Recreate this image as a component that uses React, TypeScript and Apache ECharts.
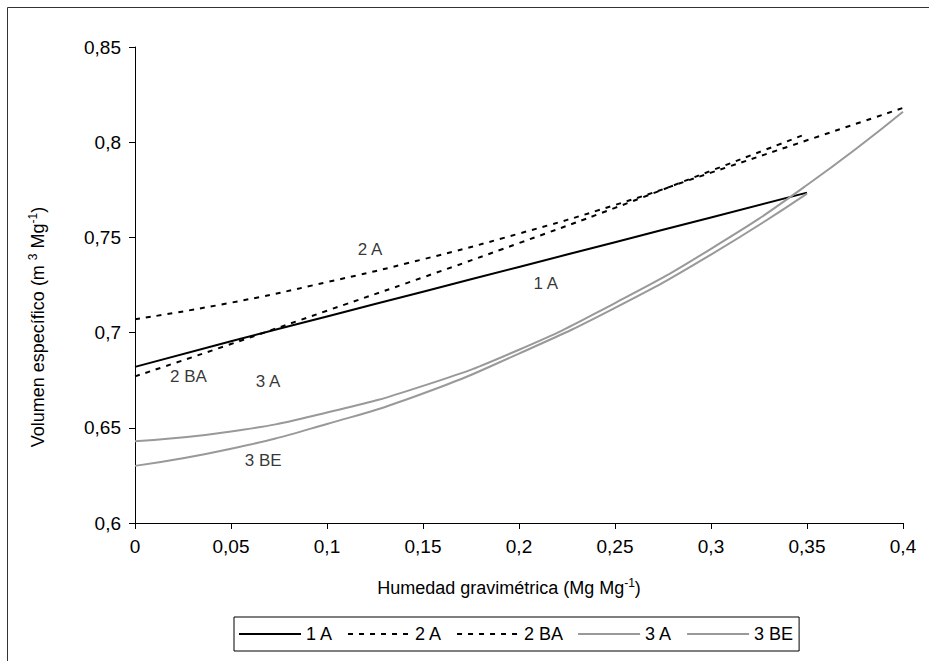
import React, { useEffect, useRef } from "react";
import * as echarts from "echarts";

const xValues = [0, 0.05, 0.1, 0.15, 0.2, 0.25, 0.3, 0.35, 0.4];
const s1A = [0.682, 0.6955, 0.7085, 0.7215, 0.7345, 0.7475, 0.7605, 0.7735];
const s2A = [0.707, 0.7157, 0.7265, 0.7385, 0.752, 0.767, 0.784, 0.801, 0.818];
const s2BA = [0.677, 0.694, 0.7115, 0.729, 0.747, 0.7655, 0.785, 0.8045];
const s3A = [0.643, 0.648, 0.658, 0.672, 0.691, 0.7155, 0.744, 0.7775, 0.816];
const s3BE = [0.63, 0.639, 0.652, 0.668, 0.689, 0.713, 0.741, 0.773];
const seriesNames = ["1 A", "2 A", "2 BA", "3 A", "3 BE"];
const annotations: [number, number, string][] = [
  [0.1224, 0.7439, "2 A"],
  [0.2139, 0.7259, "1 A"],
  [0.0278, 0.6768, "2 BA"],
  [0.0693, 0.6741, "3 A"],
  [0.0668, 0.6327, "3 BE"],
];

const FONT = "'Liberation Sans', Arial, sans-serif";
const pair = (ys: number[]) => ys.map((y, i) => [xValues[i], y]);
const fmt = (v: number) => String(parseFloat(v.toFixed(3))).replace(".", ",");

export default function App() {
  const ref = useRef<HTMLDivElement>(null);
  useEffect(() => {
    document.body.style.margin = "0";
    const chart = echarts.init(ref.current!, null, { renderer: "svg" });
    const black = "#000000";
    const gray = "#999999";
    const mk = (name: string, ys: number[], color: string, dashed: boolean) => ({
      name,
      type: "line",
      data: pair(ys),
      smooth: true,
      symbol: "none",
      lineStyle: { color, width: 2, type: dashed ? [5, 6] : "solid" },
      itemStyle: { color },
      z: 3,
    });
    chart.setOption({
      animation: false,
      backgroundColor: "#ffffff",
      textStyle: { fontFamily: FONT },
      grid: { left: 135, right: 26, top: 47, bottom: 138 },
      xAxis: {
        type: "value",
        min: 0,
        max: 0.4,
        interval: 0.05,
        axisLine: { lineStyle: { color: black, width: 1 } },
        axisTick: { show: true, length: 6, lineStyle: { color: black } },
        axisLabel: { color: black, fontSize: 19, margin: 14, formatter: fmt, fontFamily: FONT },
        splitLine: { show: false },
      },
      yAxis: {
        type: "value",
        min: 0.6,
        max: 0.85,
        interval: 0.05,
        axisLine: { show: true, lineStyle: { color: black, width: 1 } },
        axisTick: { show: true, length: 6, lineStyle: { color: black } },
        axisLabel: { color: black, fontSize: 19, margin: 14, formatter: fmt, fontFamily: FONT },
        splitLine: { show: false },
      },
      legend: {
        data: seriesNames,
        left: 234,
        top: 617,
        orient: "horizontal",
        itemWidth: 62,
        itemHeight: 14,
        itemGap: 14,
        padding: [8, 6, 8, 4],
        borderColor: black,
        borderWidth: 1,
        itemStyle: { opacity: 0 },
        textStyle: { color: black, fontSize: 18, fontFamily: FONT },
      },
      series: [
        mk("1 A", s1A, black, false),
        mk("2 A", s2A, black, true),
        mk("2 BA", s2BA, black, true),
        mk("3 A", s3A, gray, false),
        mk("3 BE", s3BE, gray, false),
        {
          name: "labels",
          type: "scatter",
          data: annotations,
          symbolSize: 0,
          silent: true,
          label: {
            show: true,
            position: "inside",
            formatter: (p: any) => p.data[2],
            color: black,
            fontSize: 17,
            fontFamily: FONT,
          },
          z: 5,
        },
      ],
      graphic: [
        {
          type: "rect",
          shape: { x: 7.5, y: 7.5, width: 940, height: 670 },
          style: { fill: "none", stroke: "#333333", lineWidth: 1 },
          silent: true,
        },
        {
          type: "text",
          x: 509,
          y: 588,
          style: {
            text: "{a|Humedad gravimétrica (Mg Mg}{s|-1}{a|)}",
            align: "center",
            verticalAlign: "middle",
            fill: black,
            rich: {
              a: { fontSize: 18, fontFamily: FONT, lineHeight: 22, fill: black },
              s: { fontSize: 12, fontFamily: FONT, lineHeight: 14, verticalAlign: "top", fill: black },
            },
          },
        },
        {
          type: "text",
          x: 38,
          y: 327,
          rotation: Math.PI / 2,
          style: {
            text: "{a|Volumen específico (m }{s|3}{a| Mg}{s|-1}{a|)}",
            align: "center",
            verticalAlign: "middle",
            fill: black,
            rich: {
              a: { fontSize: 18, fontFamily: FONT, lineHeight: 22, fill: black },
              s: { fontSize: 12, fontFamily: FONT, lineHeight: 14, verticalAlign: "top", fill: black },
            },
          },
        },
      ],
    });
    return () => chart.dispose();
  }, []);
  return <div ref={ref} style={{ width: 929, height: 661 }} />;
}
